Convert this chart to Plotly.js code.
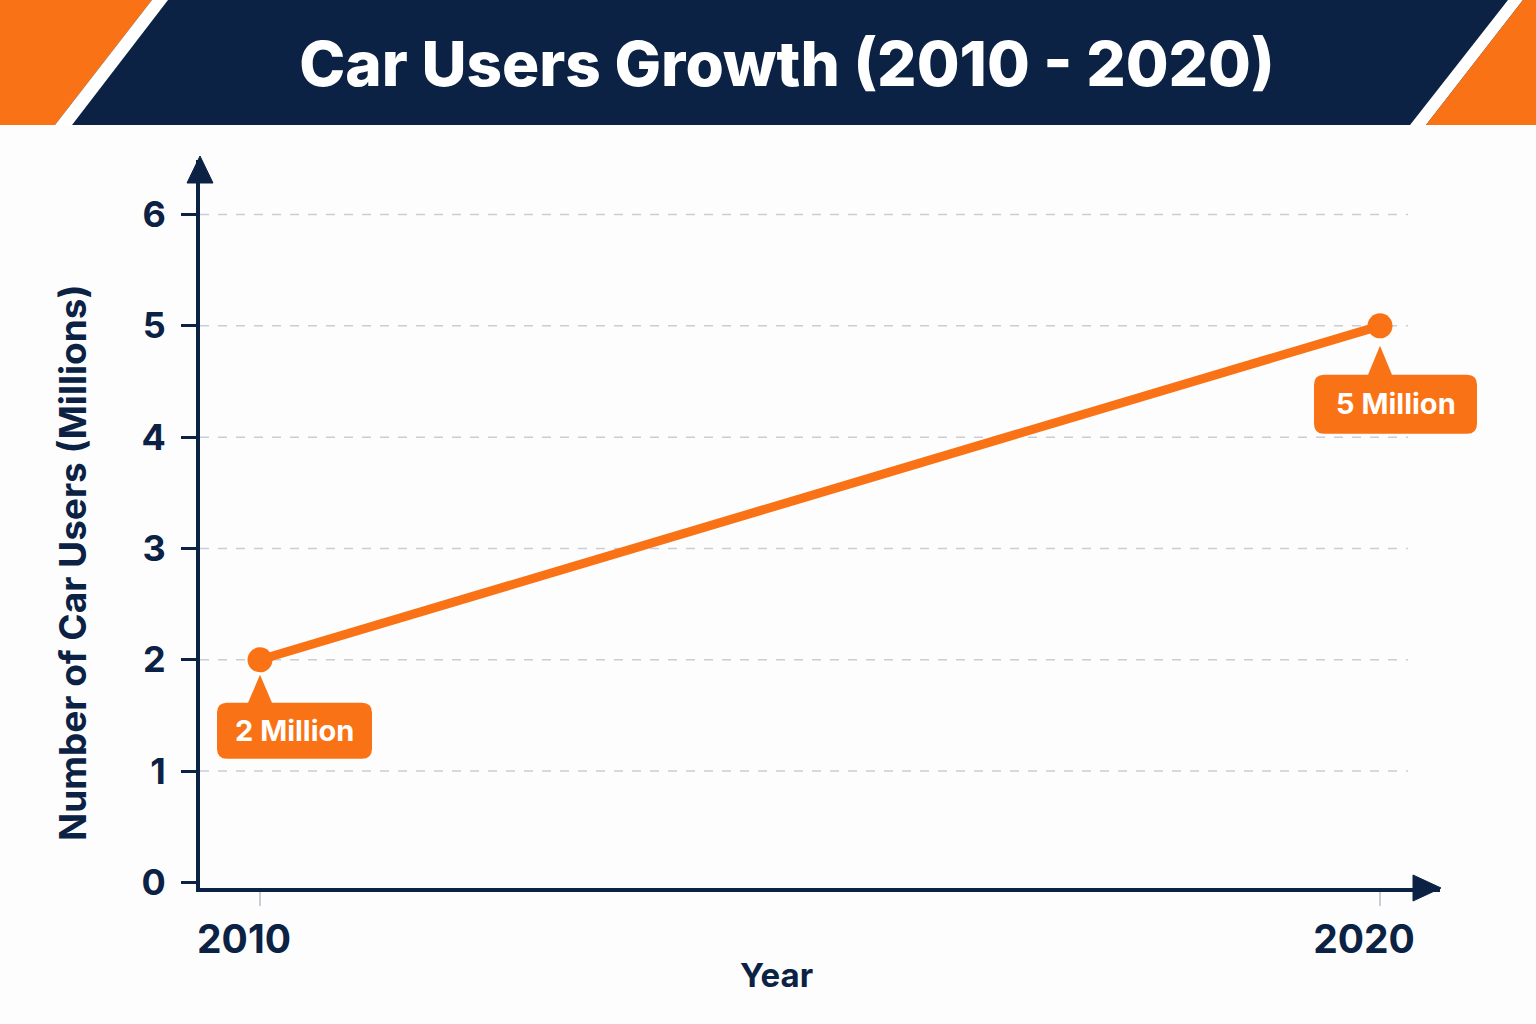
<!DOCTYPE html>
<html>
<head>
<meta charset="utf-8">
<script src="https://cdn.plot.ly/plotly-3.0.1.min.js"></script>
<style>html,body{margin:0;padding:0;background:#fdfdfd;}#chart{width:1536px;height:1024px;}</style>
</head>
<body>
<div id="chart"></div>
<script>
// ---- data ----
const years = [2010, 2020];
const carUsers = [2, 5];           // millions
const pointLabels = ["2 Million", "5 Million"];
const yTicks = [0, 1, 2, 3, 4, 5, 6];
const xTicks = [2010, 2020];
const chartTitle = "Car Users Growth (2010 - 2020)";
const xTitle = "Year";
const yTitle = "Number of Car Users (Millions)";

// ---- style ----
const NAVY = "#0c2244";
const ORANGE = "#f97316";
const FONT = "Inter, 'Noto Sans', sans-serif";

// plot area in pixels
const L = 200, R = 1440, T = 160, B = 888;
const W = 1536, H = 1024;
const X_RANGE = [2010 - 60 / 112, 2020 + 60 / 112];
const Y_RANGE = [-0.05, 6.49];
const px = x => (x - L) / (R - L);
const py = y => (B - y) / (B - T);
const dx = v => (v - X_RANGE[0]) / (X_RANGE[1] - X_RANGE[0]);
const dy = v => (v - Y_RANGE[0]) / (Y_RANGE[1] - Y_RANGE[0]);
const poly = pts => "M" + pts.map(p => px(p[0]) + "," + py(p[1])).join(" L") + " Z";

const shapes = [];
// header band
shapes.push({type: "path", xref: "paper", yref: "paper", layer: "below",
  path: poly([[0,0],[W,0],[W,125],[0,125]]), fillcolor: NAVY, line: {width: 0}});
shapes.push({type: "path", xref: "paper", yref: "paper", layer: "below",
  path: poly([[0,0],[152,0],[55,125],[0,125]]), fillcolor: ORANGE, line: {width: 0}});
shapes.push({type: "path", xref: "paper", yref: "paper", layer: "below",
  path: poly([[152,0],[168,0],[72,125],[55,125]]), fillcolor: "#ffffff", line: {width: 0}});
shapes.push({type: "path", xref: "paper", yref: "paper", layer: "below",
  path: poly([[1508,0],[1523,0],[1426,125],[1410,125]]), fillcolor: "#ffffff", line: {width: 0}});
shapes.push({type: "path", xref: "paper", yref: "paper", layer: "below",
  path: poly([[1523,0],[W,0],[W,125],[1426,125]]), fillcolor: ORANGE, line: {width: 0}});

// dashed gridlines (stop short of the arrow)
yTicks.forEach(v => {
  if (v === 0) return;
  shapes.push({type: "line", xref: "paper", yref: "y", layer: "below",
    x0: 0, x1: px(1408), y0: v, y1: v,
    line: {color: "#c9ced6", width: 1.5, dash: "dash"}});
});

// axis arrowheads
shapes.push({type: "path", xref: "paper", yref: "paper",
  path: poly([[200,156],[213,183],[187,183]]), fillcolor: NAVY, line: {color: NAVY, width: 1}});
shapes.push({type: "path", xref: "paper", yref: "paper",
  path: poly([[1441,888],[1413,875],[1413,901]]), fillcolor: NAVY, line: {color: NAVY, width: 1}});

// callout boxes (pixel-sized, anchored at the data points)
function callout(xv, yv, x0, x1, yTop, yBot, tip, r) {
  const Y = v => -v;
  const p = [
    `M${x0 + r},${Y(yTop)}`,
    `L${-12},${Y(yTop)}`, `L0,${Y(tip)}`, `L12,${Y(yTop)}`,
    `L${x1 - r},${Y(yTop)}`, `Q${x1},${Y(yTop)} ${x1},${Y(yTop + r)}`,
    `L${x1},${Y(yBot - r)}`, `Q${x1},${Y(yBot)} ${x1 - r},${Y(yBot)}`,
    `L${x0 + r},${Y(yBot)}`, `Q${x0},${Y(yBot)} ${x0},${Y(yBot - r)}`,
    `L${x0},${Y(yTop + r)}`, `Q${x0},${Y(yTop)} ${x0 + r},${Y(yTop)}`, "Z"
  ].join(" ");
  return {type: "path", xref: "paper", yref: "paper", xsizemode: "pixel", ysizemode: "pixel",
    xanchor: dx(xv), yanchor: dy(yv), path: p, fillcolor: ORANGE, line: {width: 0}};
}
shapes.push(callout(years[0], carUsers[0], -43, 112, 43, 99, 15, 10));
shapes.push(callout(years[1], carUsers[1], -66, 97, 49, 108, 20, 10));

const annotations = [
  {x: years[0], y: carUsers[0], xref: "x", yref: "y", text: "<b>" + pointLabels[0] + "</b>",
   showarrow: false, xshift: 34, yshift: -71, font: {family: FONT, size: 29, color: "#ffffff"}},
  {x: years[1], y: carUsers[1], xref: "x", yref: "y", text: "<b>" + pointLabels[1] + "</b>",
   showarrow: false, xshift: 16, yshift: -78, font: {family: FONT, size: 29, color: "#ffffff"}},
  {x: px(776), y: py(975), xref: "paper", yref: "paper", text: "<b>" + xTitle + "</b>",
   showarrow: false, xanchor: "center", yanchor: "middle",
   font: {family: FONT, size: 33, color: NAVY}},
  {x: px(72), y: py(563), xref: "paper", yref: "paper", text: "<b>" + yTitle + "</b>",
   showarrow: false, xanchor: "center", yanchor: "middle", textangle: -90,
   font: {family: FONT, size: 37, color: NAVY}}
];

const trace = {
  x: years, y: carUsers, type: "scatter", mode: "lines+markers",
  line: {color: ORANGE, width: 9},
  marker: {color: ORANGE, size: 25},
  hoverinfo: "skip", cliponaxis: false
};

const layout = {
  width: W, height: H,
  paper_bgcolor: "#fdfdfd", plot_bgcolor: "rgba(0,0,0,0)",
  margin: {l: L, r: W - R, t: T, b: H - B, pad: 0},
  showlegend: false,
  title: {text: chartTitle, x: 787 / W, xanchor: "center",
    y: 1 - 64 / H, yanchor: "middle", yref: "container",
    font: {family: FONT, size: 62, color: "#ffffff", weight: 800}},
  xaxis: {
    range: X_RANGE,
    tickvals: xTicks, ticktext: xTicks.map(String),
    showgrid: false, zeroline: false,
    showline: true, linecolor: NAVY, linewidth: 4,
    ticks: "outside", ticklen: 14, tickwidth: 2, tickcolor: "#c9ced6",
    ticklabelshift: -16,
    tickfont: {family: FONT, size: 39, color: NAVY, weight: 700},
    fixedrange: true
  },
  yaxis: {
    range: Y_RANGE,
    tickvals: yTicks, ticktext: yTicks.map(String),
    showgrid: false, zeroline: false,
    showline: true, linecolor: NAVY, linewidth: 4,
    ticks: "outside", ticklen: 15, tickwidth: 3, tickcolor: NAVY,
    ticklabelstandoff: 8,
    tickfont: {family: FONT, size: 36, color: NAVY, weight: 700},
    fixedrange: true
  },
  shapes: shapes,
  annotations: annotations
};

Plotly.newPlot("chart", [trace], layout, {displayModeBar: false, staticPlot: true});
</script>
</body>
</html>
